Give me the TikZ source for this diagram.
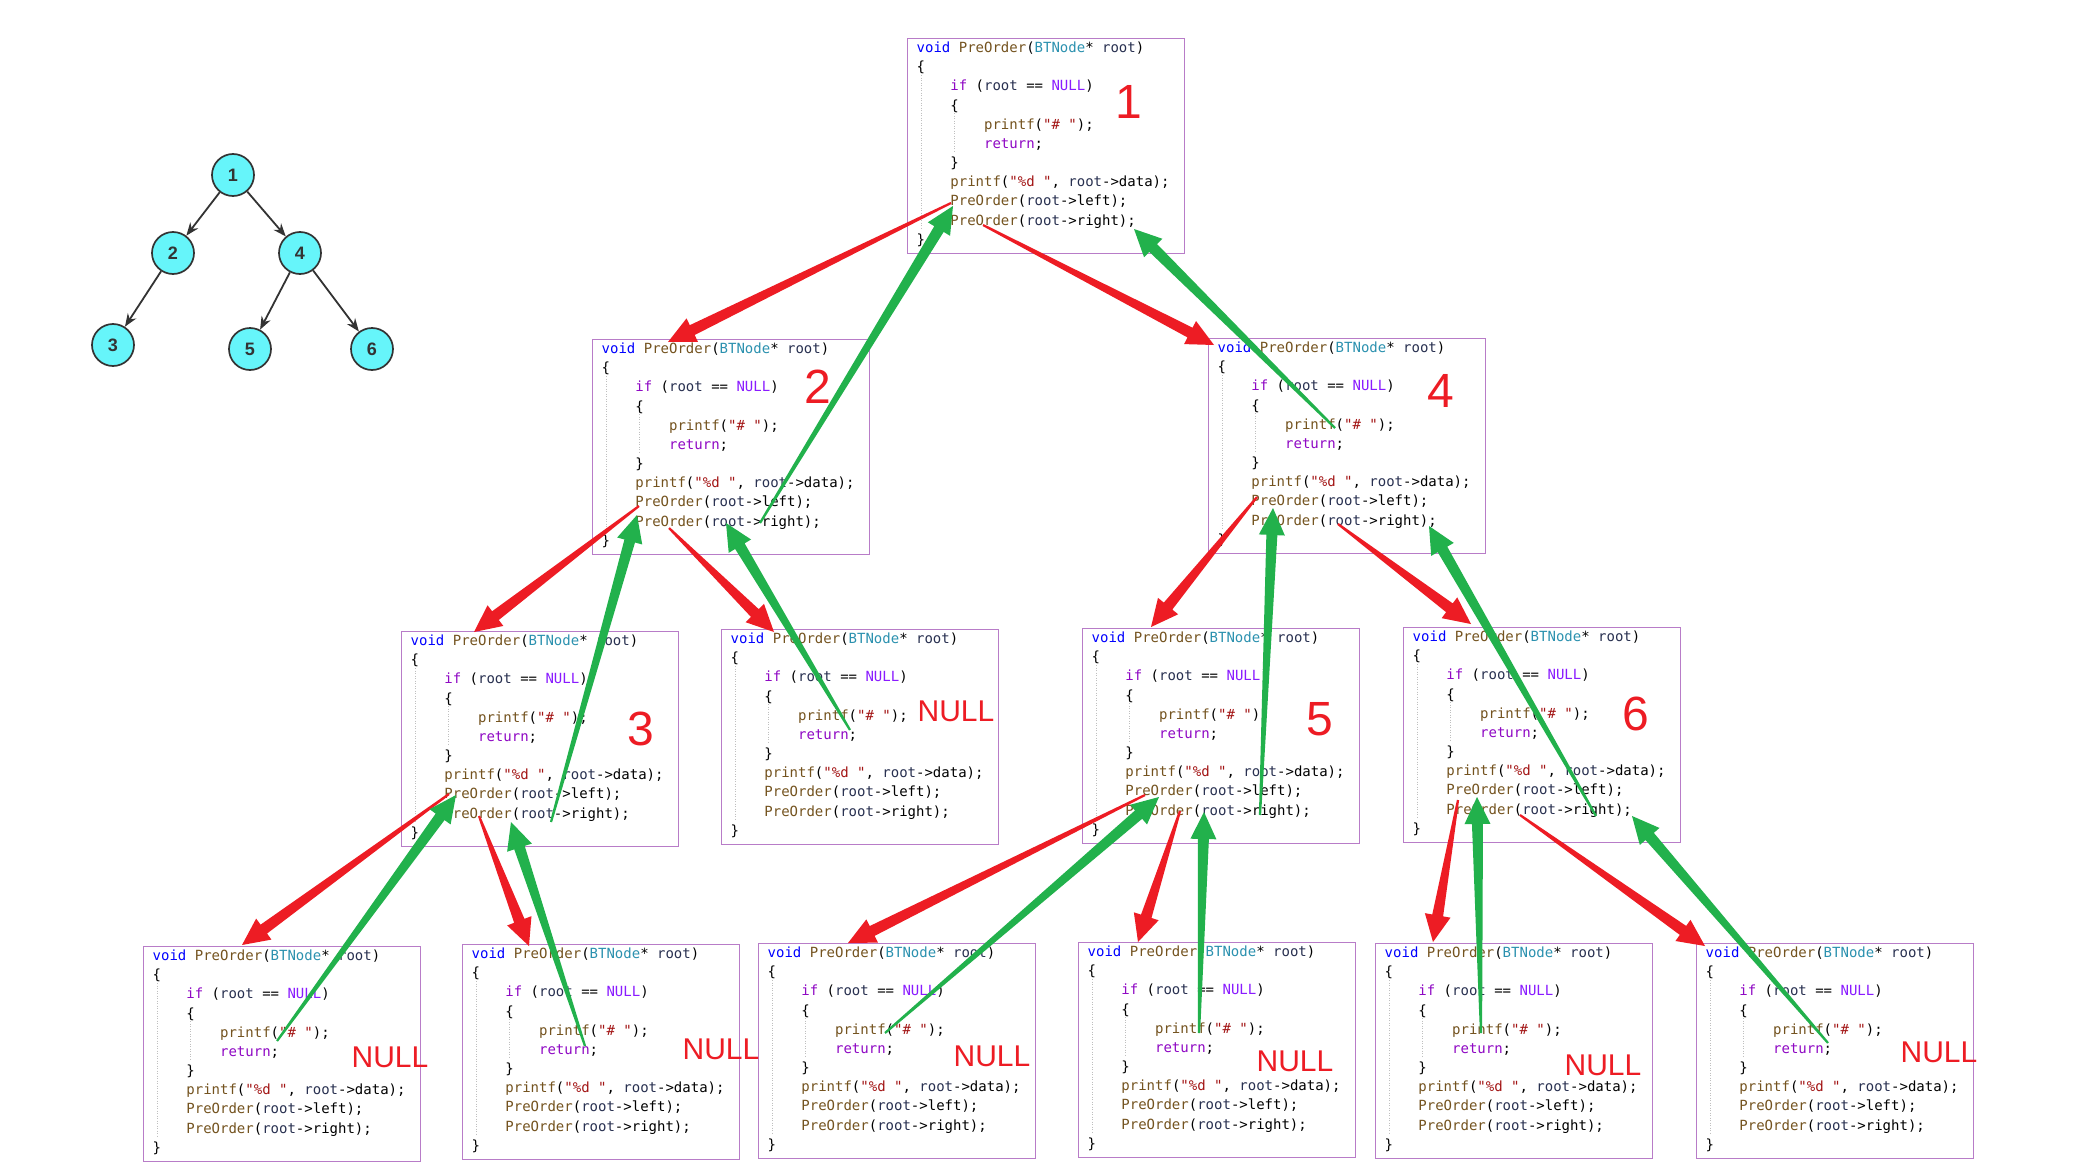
\documentclass[tikz,border=0pt]{standalone}
\usepackage{fontspec}
\setmonofont{DejaVu Sans Mono}
\newfontfamily\lblfont{Liberation Sans}
\usetikzlibrary{calc,arrows.meta}
\definecolor{cVoid}{RGB}{0,0,255}
\definecolor{cFn}{RGB}{116,83,31}
\definecolor{cType}{RGB}{43,145,175}
\definecolor{cPar}{RGB}{40,48,80}
\definecolor{cCtl}{RGB}{143,8,196}
\definecolor{cMac}{RGB}{138,27,255}
\definecolor{cStr}{RGB}{163,21,21}
\definecolor{cBox}{RGB}{184,124,200}
\definecolor{pRed}{RGB}{237,28,36}
\definecolor{pGreen}{RGB}{34,177,76}
\definecolor{tFill}{RGB}{102,245,250}
\definecolor{tLine}{RGB}{51,51,51}
\newcommand\cV[1]{\textcolor{cVoid}{#1}}
\newcommand\cF[1]{\textcolor{cFn}{#1}}
\newcommand\cT[1]{\textcolor{cType}{#1}}
\newcommand\cP[1]{\textcolor{cPar}{#1}}
\newcommand\cC[1]{\textcolor{cCtl}{#1}}
\newcommand\cM[1]{\textcolor{cMac}{#1}}
\newcommand\cS[1]{\textcolor{cStr}{#1}}
\newcommand\ia{\phantom{0000}}
\newcommand\ib{\phantom{00000000}}
\tikzset{
  cbox/.style={draw=cBox, line width=1.3pt, minimum width=277pt, minimum height=215pt, inner sep=0pt, anchor=north west},
  cl/.style={anchor=base west, inner sep=0pt, font=\ttfamily\fontsize{14}{16}\selectfont},
  guide/.style={draw=gray!50, line width=0.6pt, dash pattern=on 1pt off 1.5pt},
  bignum/.style={text=pRed, inner sep=0pt, font=\lblfont\fontsize{48}{50}\selectfont},
  nulltxt/.style={text=pRed, inner sep=0pt, font=\lblfont\fontsize{30}{32}\selectfont},
  tnode/.style={circle, draw=tLine, line width=1.7pt, fill=tFill, minimum size=42pt, inner sep=0pt, text=tLine, font=\lblfont\bfseries\fontsize{18}{20}\selectfont},
  tedge/.style={draw=tLine, line width=1.8pt, -{Stealth[length=13pt,width=10pt]}}
}
\newcommand\codebox[3]{%
  \node[cbox] (#1) at (#2,#3) {};
  \draw[guide] ($(#1.north west)+(14,37)$) -- ($(#1.north west)+(14,190)$);
  \draw[guide] ($(#1.north west)+(47.5,75)$) -- ($(#1.north west)+(47.5,114)$);
  \node[cl] (#1-a) at ($(#1.north west)+(9.5,14.5)$) {\cV{void} \cF{PreOrder}(\cT{BTNode}* \cP{root})};
  \node[cl] (#1-b) at ($(#1.north west)+(9.5,33.67)$) {\{};
  \node[cl] (#1-c) at ($(#1.north west)+(9.5,52.84)$) {\ia\cC{if} (\cP{root} == \cM{NULL})};
  \node[cl] (#1-d) at ($(#1.north west)+(9.5,72.01)$) {\ia\{};
  \node[cl] (#1-e) at ($(#1.north west)+(9.5,91.18)$) {\ib\cF{printf}(\cS{"\# "});};
  \node[cl] (#1-f) at ($(#1.north west)+(9.5,110.35)$) {\ib\cC{return};};
  \node[cl] (#1-g) at ($(#1.north west)+(9.5,129.52)$) {\ia\}};
  \node[cl] (#1-h) at ($(#1.north west)+(9.5,148.69)$) {\ia\cF{printf}(\cS{"\%d "}, \cP{root}->data);};
  \node[cl] (#1-i) at ($(#1.north west)+(9.5,167.86)$) {\ia\cF{PreOrder}(\cP{root}->left);};
  \node[cl] (#1-j) at ($(#1.north west)+(9.5,187.03)$) {\ia\cF{PreOrder}(\cP{root}->right);};
  \node[cl] (#1-k) at ($(#1.north west)+(9.5,206.2)$) {\}};
}
\newcommand\taper[3]{%
  \coordinate (tc) at ($(#3)!27pt!(#2)$);
  \fill[#1] ($(#2)!1.1pt!90:(#3)$) -- ($(tc)!5.5pt!90:(#3)$) -- ($(tc)!13pt!90:(#3)$) -- (#3)
    -- ($(tc)!13pt!-90:(#3)$) -- ($(tc)!5.5pt!-90:(#3)$) -- ($(#2)!1.1pt!-90:(#3)$) -- cycle;
}
\begin{document}
\begin{tikzpicture}[x=1pt,y=-1pt]
\fill[white] (0,0) rectangle (2077,1164);
\useasboundingbox (0,0) rectangle (2077,1164);

% tree
\node[tnode] (t1) at (233,175) {1};
\node[tnode] (t2) at (173,253) {2};
\node[tnode] (t4) at (300,253) {4};
\node[tnode] (t3) at (113,345) {3};
\node[tnode] (t5) at (250,349) {5};
\node[tnode] (t6) at (372,349) {6};
\draw[tedge] (t1) -- (t2);
\draw[tedge] (t1) -- (t4);
\draw[tedge] (t2) -- (t3);
\draw[tedge] (t4) -- (t5);
\draw[tedge] (t4) -- (t6);

% code boxes
\codebox{b1}{907}{38}
\codebox{b2}{592}{339}
\codebox{b4}{1208}{338}
\codebox{b3}{401}{631}
\codebox{b2r}{721}{629}
\codebox{b5}{1082}{628}
\codebox{b6}{1403}{627}
\codebox{b3l}{143}{946}
\codebox{b3r}{462}{944}
\codebox{b5l}{758}{943}
\codebox{b5r}{1078}{942}
\codebox{b6l}{1375}{943}
\codebox{b6r}{1696}{943}

% labels
\node[bignum] (n1) at (1129,102) {1};
\node[bignum] (n2) at (818,387) {2};
\node[bignum] (n4) at (1441,391) {4};
\node[bignum] (n3) at (641,729) {3};
\node[bignum] (n5) at (1320,719) {5};
\node[bignum] (n6) at (1636,714) {6};
\node[nulltxt] (u2r) at (956,711) {NULL};
\node[nulltxt] (u3l) at (390,1057) {NULL};
\node[nulltxt] (u3r) at (721,1049) {NULL};
\node[nulltxt] (u5l) at (992,1056) {NULL};
\node[nulltxt] (u5r) at (1295,1061) {NULL};
\node[nulltxt] (u6l) at (1603,1065) {NULL};
\node[nulltxt] (u6r) at (1939,1052) {NULL};

% arrow end points
\coordinate (r1a) at (951,203);  \coordinate (r1b) at (668,342);
\coordinate (r2a) at (983,225);  \coordinate (r2b) at (1214,345);
\coordinate (r3a) at (639,506);  \coordinate (r3b) at (474,632);
\coordinate (r4a) at (669,528);  \coordinate (r4b) at (774,632);
\coordinate (r5a) at (1257,497); \coordinate (r5b) at (1151,627);
\coordinate (r6a) at (1338,524); \coordinate (r6b) at (1471,624);
\coordinate (r7a) at (449,794);  \coordinate (r7b) at (242,945);
\coordinate (r8a) at (479,816);  \coordinate (r8b) at (529,946);
\coordinate (r9a) at (1145,795); \coordinate (r9b) at (848,943);
\coordinate (r10a) at (1180,811); \coordinate (r10b) at (1138,942);
\coordinate (r11a) at (1458,800); \coordinate (r11b) at (1433,942);
\coordinate (r12a) at (1520,815); \coordinate (r12b) at (1705,946);

\coordinate (g1a) at (760,523);  \coordinate (g1b) at (953,206);
\coordinate (g2a) at (1335,428); \coordinate (g2b) at (1134,229);
\coordinate (g3a) at (551,822);  \coordinate (g3b) at (637,515);
\coordinate (g4a) at (850,730);  \coordinate (g4b) at (726,523);
\coordinate (g5a) at (1260,815); \coordinate (g5b) at (1273,508);
\coordinate (g6a) at (1596,816); \coordinate (g6b) at (1429,526);
\coordinate (g7a) at (277,1041); \coordinate (g7b) at (456,795);
\coordinate (g8a) at (585,1046); \coordinate (g8b) at (511,822);
\coordinate (g9a) at (885,1033); \coordinate (g9b) at (1159,797);
\coordinate (g10a) at (1199,1033); \coordinate (g10b) at (1204,812);
\coordinate (g11a) at (1481,1033); \coordinate (g11b) at (1477,797);
\coordinate (g12a) at (1828,1043); \coordinate (g12b) at (1632,816);

\foreach \i in {1,...,12}{\taper{pRed}{r\i a}{r\i b}}
\foreach \i in {1,...,12}{\taper{pGreen}{g\i a}{g\i b}}
\end{tikzpicture}
\end{document}
